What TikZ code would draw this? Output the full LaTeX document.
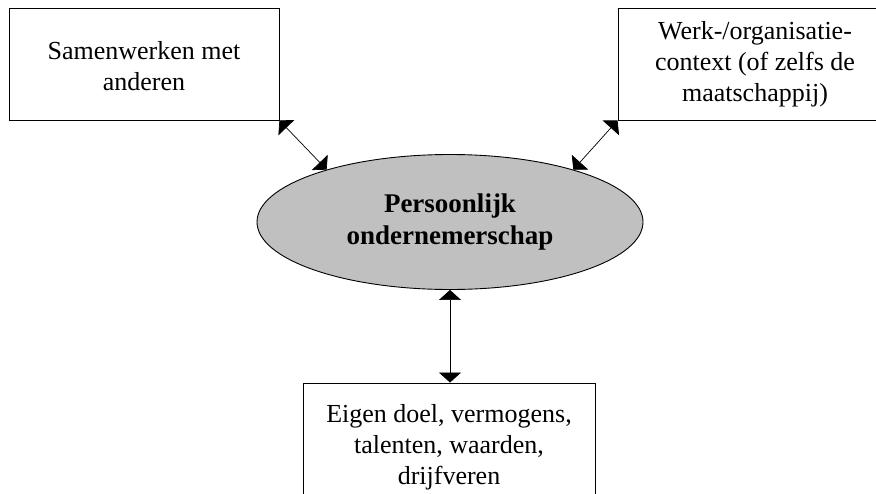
\documentclass[tikz,border=0pt]{standalone}
\usepackage{fontspec}
\setmainfont{Liberation Serif}
\usetikzlibrary{shapes.geometric,arrows.meta}
\definecolor{corefill}{RGB}{192,192,192}
\begin{document}
\begin{tikzpicture}[x=1pt,y=-1pt,
  box/.style={draw=black, line width=0.9pt, rectangle, align=center, inner sep=0pt,
    font=\fontsize{26}{31}\selectfont},
  core/.style={draw=black, line width=0.9pt, ellipse, fill=corefill,
    minimum width=386pt, minimum height=135pt, inner sep=0pt, align=center,
    font=\bfseries\fontsize{27}{32}\selectfont},
  link/.style={line width=0.7pt,
    {Triangle[length=10pt,width=22pt]}-{Triangle[length=10pt,width=22pt]}}]
\useasboundingbox (0,0) rectangle (876,493);
\clip (0,0) rectangle (876,493);
% three surrounding factors
\node[box, minimum width=270pt, minimum height=112pt] (team) at (144,64)
  {\rule{0pt}{22pt}Samenwerken met\\anderen};
\node[box, minimum width=274pt, minimum height=112pt] (ctx) at (755,64)
  {Werk-/organisatie-\\context (of zelfs de\\maatschappij)};
\node[box, minimum width=292pt, minimum height=128pt] (self) at (449,447)
  {Eigen doel, vermogens,\\talenten, waarden,\\drijfveren};
% central concept
\node[core] (pe) at (450,222) {Persoonlijk\\ondernemerschap};
% two-way relations
\draw[link] (team.south east) -- (pe.157);
\draw[link] (ctx.south west) -- (pe.23);
\draw[link] (pe.south) -- (pe.south |- self.north);
\end{tikzpicture}
\end{document}
